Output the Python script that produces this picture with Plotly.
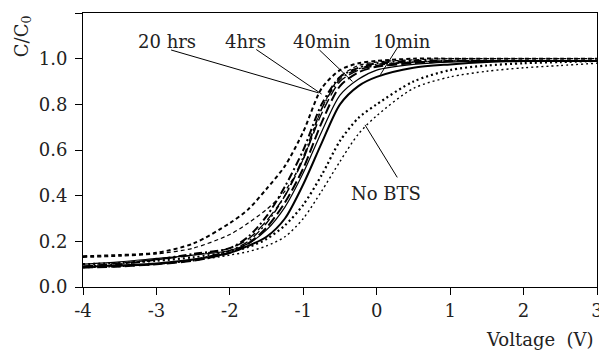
import plotly.graph_objects as go

voltage = [-4, -3.5, -3, -2.5, -2, -1.75, -1.5, -1.25, -1, -0.75, -0.5, -0.25, 0, 0.5, 1, 1.5, 2, 2.5, 3]

min10_a = [0.088, 0.095, 0.103, 0.12, 0.15, 0.18, 0.22, 0.30, 0.45, 0.63, 0.80, 0.88, 0.92, 0.96, 0.975, 0.985, 0.99, 0.99, 0.99]
min10_b = [0.10, 0.11, 0.125, 0.14, 0.16, 0.19, 0.25, 0.35, 0.50, 0.68, 0.84, 0.91, 0.95, 0.975, 0.985, 0.99, 0.99, 0.99, 0.99]
min40_a = [0.085, 0.09, 0.10, 0.115, 0.15, 0.19, 0.26, 0.37, 0.52, 0.72, 0.88, 0.94, 0.965, 0.98, 0.99, 0.99, 0.99, 0.99, 0.99]
min40_b = [0.09, 0.105, 0.12, 0.14, 0.17, 0.21, 0.29, 0.40, 0.56, 0.76, 0.90, 0.95, 0.97, 0.985, 0.99, 0.99, 0.99, 0.99, 0.99]
hrs4_a = [0.09, 0.10, 0.12, 0.145, 0.17, 0.22, 0.31, 0.44, 0.60, 0.80, 0.92, 0.96, 0.98, 0.99, 0.99, 0.99, 0.99, 0.99, 0.99]
hrs4_b = [0.085, 0.092, 0.10, 0.12, 0.16, 0.20, 0.28, 0.40, 0.57, 0.78, 0.91, 0.955, 0.975, 0.985, 0.99, 0.99, 0.99, 0.99, 0.99]
hrs20_a = [0.135, 0.14, 0.15, 0.19, 0.28, 0.34, 0.43, 0.53, 0.68, 0.87, 0.95, 0.98, 0.99, 1.0, 1.0, 1.0, 1.0, 1.0, 1.0]
hrs20_b = [0.13, 0.135, 0.145, 0.17, 0.23, 0.28, 0.34, 0.42, 0.56, 0.78, 0.92, 0.97, 0.985, 0.995, 1.0, 1.0, 1.0, 1.0, 1.0]
nobts_a = [0.10, 0.105, 0.115, 0.13, 0.155, 0.175, 0.21, 0.27, 0.36, 0.49, 0.64, 0.74, 0.80, 0.90, 0.95, 0.97, 0.98, 0.985, 0.99]
nobts_b = [0.085, 0.09, 0.10, 0.115, 0.14, 0.155, 0.18, 0.22, 0.30, 0.42, 0.55, 0.67, 0.75, 0.87, 0.92, 0.945, 0.96, 0.97, 0.98]

x_ticks = [-4, -3, -2, -1, 0, 1, 2, 3]
y_ticks = [0.0, 0.2, 0.4, 0.6, 0.8, 1.0, 1.2]

series = [
    (min10_a, "solid", 2.0),
    (min10_b, "solid", 1.2),
    (min40_a, "10px,4px", 2.0),
    (min40_b, "10px,4px", 1.4),
    (hrs4_a, "8px,3px,2px,3px", 2.0),
    (hrs4_b, "8px,3px,2px,3px", 1.4),
    (hrs20_a, "4px,3px", 2.0),
    (hrs20_b, "4px,3px", 1.2),
    (nobts_a, "2px,3px", 2.2),
    (nobts_b, "2px,3px", 1.4),
]

fig = go.Figure()
for ys, dash, w in series:
    fig.add_trace(go.Scatter(x=voltage, y=ys, mode="lines",
                             line=dict(color="black", width=w, dash=dash, shape="spline", smoothing=0.8),
                             showlegend=False, hoverinfo="skip"))

font = dict(family="DejaVu Serif", size=18, color="#222")

labels = [
    ("20 hrs", -2.85, 1.075, -2.80, 1.038, -0.79, 0.85),
    ("4hrs", -1.79, 1.075, -1.64, 1.040, -0.75, 0.845),
    ("40min", -0.74, 1.075, -0.78, 1.038, -0.33, 0.90),
    ("10min", 0.34, 1.075, 0.28, 1.047, 0.05, 0.93),
]
for txt, tx, ty, x0, y0, x1, y1 in labels:
    fig.add_annotation(x=tx, y=ty, text=txt, showarrow=False, font=font, xref="x", yref="y")
    fig.add_shape(type="line", x0=x0, y0=y0, x1=x1, y1=y1, xref="x", yref="y",
                  line=dict(color="black", width=1))

fig.add_annotation(x=0.12, y=0.41, text="No BTS", showarrow=False, font=font, xref="x", yref="y")
fig.add_shape(type="line", x0=0.28, y0=0.48, x1=-0.16, y1=0.71, xref="x", yref="y",
              line=dict(color="black", width=1))

fig.add_annotation(x=-0.117, y=0.915, xref="paper", yref="paper", text="C/C<sub>0</sub>", showarrow=False,
                   textangle=-90, font=font, xanchor="center", yanchor="middle")
fig.add_annotation(x=0.89, y=-0.193, xref="paper", yref="paper", text="Voltage  (V)", showarrow=False,
                   font=font, xanchor="center", yanchor="middle")

fig.update_layout(
    width=599, height=347,
    margin=dict(l=75, r=4, t=5, b=68),
    plot_bgcolor="white", paper_bgcolor="white",
    font=font,
)
fig.update_xaxes(range=[-4, 3], tickvals=x_ticks, ticktext=[str(v) for v in x_ticks],
                 showline=True, linecolor="black", linewidth=1, mirror=True,
                 ticks="outside", ticklen=7, tickcolor="black", showgrid=False, zeroline=False,
                 ticklabeloverflow="allow", tickfont=font)
fig.update_yaxes(range=[0, 1.2], tickvals=y_ticks, ticktext=[f"{v:.1f}" for v in y_ticks],
                 showline=True, linecolor="black", linewidth=1, mirror=True,
                 ticks="outside", ticklen=7, tickcolor="black", showgrid=False, zeroline=False,
                 ticklabelstandoff=4, tickfont=font)

fig.write_html("out.html")
